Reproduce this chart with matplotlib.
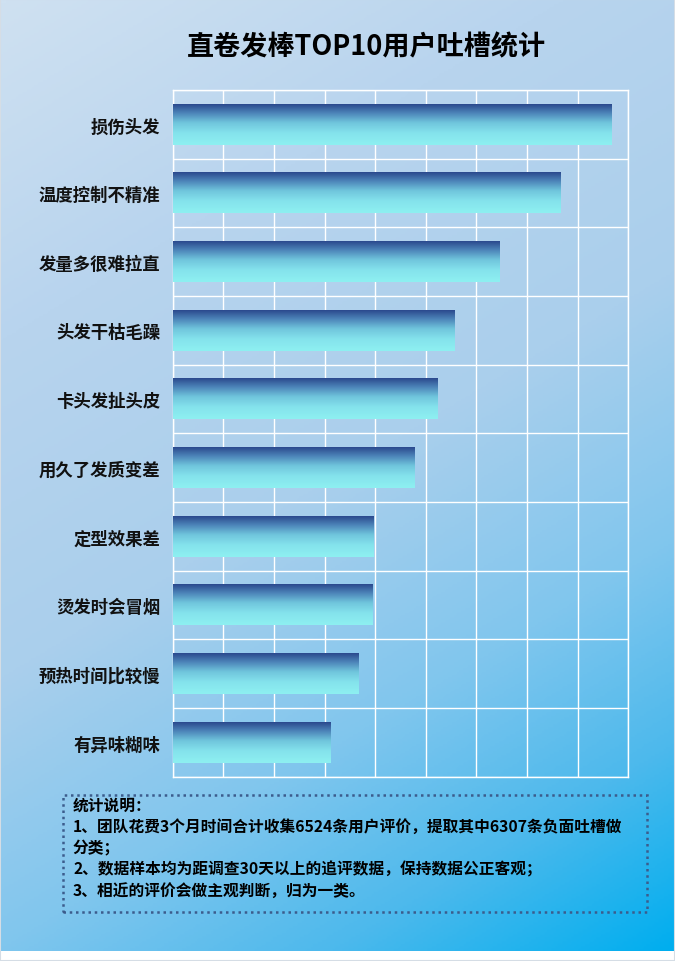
import numpy as np
import matplotlib
matplotlib.use("Agg")
import matplotlib.pyplot as plt
from matplotlib.colors import LinearSegmentedColormap
from matplotlib.patches import Rectangle

plt.rcParams["font.family"] = ["Noto Sans CJK SC", "DejaVu Sans"]

# ---------- Data ----------
categories = ["损伤头发", "温度控制不精准", "发量多很难拉直", "头发干枯毛躁", "卡头发扯头皮",
              "用久了发质变差", "定型效果差", "烫发时会冒烟", "预热时间比较慢", "有异味糊味"]
complaints = [866, 765, 645, 556, 522, 477, 397, 394, 366, 311]
x_max = 900
x_step = 100

title = "直卷发棒TOP10用户吐槽统计"
notes = ["统计说明：",
         "1、团队花费3个月时间合计收集6524条用户评价，提取其中6307条负面吐槽做",
         "分类；",
         "2、数据样本均为距调查30天以上的追评数据，保持数据公正客观；",
         "3、相近的评价会做主观判断，归为一类。"]

# ---------- Figure ----------
W, H = 675, 962
fig = plt.figure(figsize=(W / 100, H / 100), dpi=100)
fig.patch.set_facecolor("white")

# background gradient
bg_cmap = LinearSegmentedColormap.from_list(
    "bg", [(0.0, "#cfe1f1"), (0.25, "#b8d4ee"), (0.5, "#aacfec"),
           (0.7, "#80c6ee"), (0.85, "#4cb9ec"), (1.0, "#00aeef")])
bg_ax = fig.add_axes([0, 10 / H, 1, 952 / H], zorder=-1)
u = np.linspace(0, 1, 300)[None, :]
v = np.linspace(0, 1, 400)[:, None]
bg_ax.imshow(0.3 * u + 0.7 * v, cmap=bg_cmap, aspect="auto", vmin=0, vmax=1,
             extent=[0, 1, 1, 0])
bg_ax.axis("off")

# ---------- Bars ----------
left, right, top, bottom = 172.7, 628.3, 91, 777.7
ax = fig.add_axes([left / W, 1 - bottom / H, (right - left) / W, (bottom - top) / H])
ax.set_facecolor("none")

bar_cmap = LinearSegmentedColormap.from_list(
    "bar", [(0.0, "#2b4a8e"), (0.2, "#4a80b6"), (0.45, "#6fc4dc"),
            (0.7, "#84e2ec"), (1.0, "#8ef0f1")])
grad = np.linspace(0, 1, 100)[:, None]

y_pos = np.arange(len(categories))
bars = ax.barh(y_pos, complaints, height=0.59, facecolor="none", edgecolor="none")
for b in bars:
    x0, y0, w, h = b.get_x(), b.get_y(), b.get_width(), b.get_height()
    ax.imshow(grad, cmap=bar_cmap, aspect="auto", extent=[x0, x0 + w, y0 + h, y0],
              zorder=3)

ax.set_xlim(0, x_max)
ax.set_ylim(len(categories) - 0.5, -0.5)
ax.set_xticks(np.arange(0, x_max + 1, x_step))
ax.set_xticklabels([])
ax.set_yticks(y_pos)
ax.set_yticklabels(categories, fontsize=12.5, fontweight="heavy", color="#111111")
ax.set_yticks(np.arange(-0.5, len(categories)), minor=True)
ax.tick_params(axis="both", which="both", length=0, pad=9)
ax.grid(axis="x", which="major", color="white", lw=1)
ax.grid(axis="y", which="minor", color="white", lw=1)
ax.set_axisbelow(True)
for s in ax.spines.values():
    s.set_color("white")
    s.set_linewidth(1)

# ---------- Title ----------
fig.text(366 / W, 1 - 47 / H, title, ha="center", va="center",
         fontsize=19.5, fontweight="heavy", color="black")

# ---------- Notes box ----------
fig.add_artist(Rectangle((63 / W, 1 - 913 / H), (647 - 63) / W, (913 - 796) / H,
                         transform=fig.transFigure, facecolor="none",
                         edgecolor="#3c5c8c", lw=1.8, ls=(0, (1, 1.5))))
for i, line in enumerate(notes):
    fig.text(73 / W, 1 - (806 + i * 21.2) / H, line, ha="left", va="center",
             fontsize=11.3, fontweight="heavy", color="black")

# frame around the picture
fig.add_artist(Rectangle((0, 0), 1, 1, transform=fig.transFigure, facecolor="none",
                         edgecolor="#d5dde5", lw=1.5))

plt.savefig("out.png", dpi=100)
